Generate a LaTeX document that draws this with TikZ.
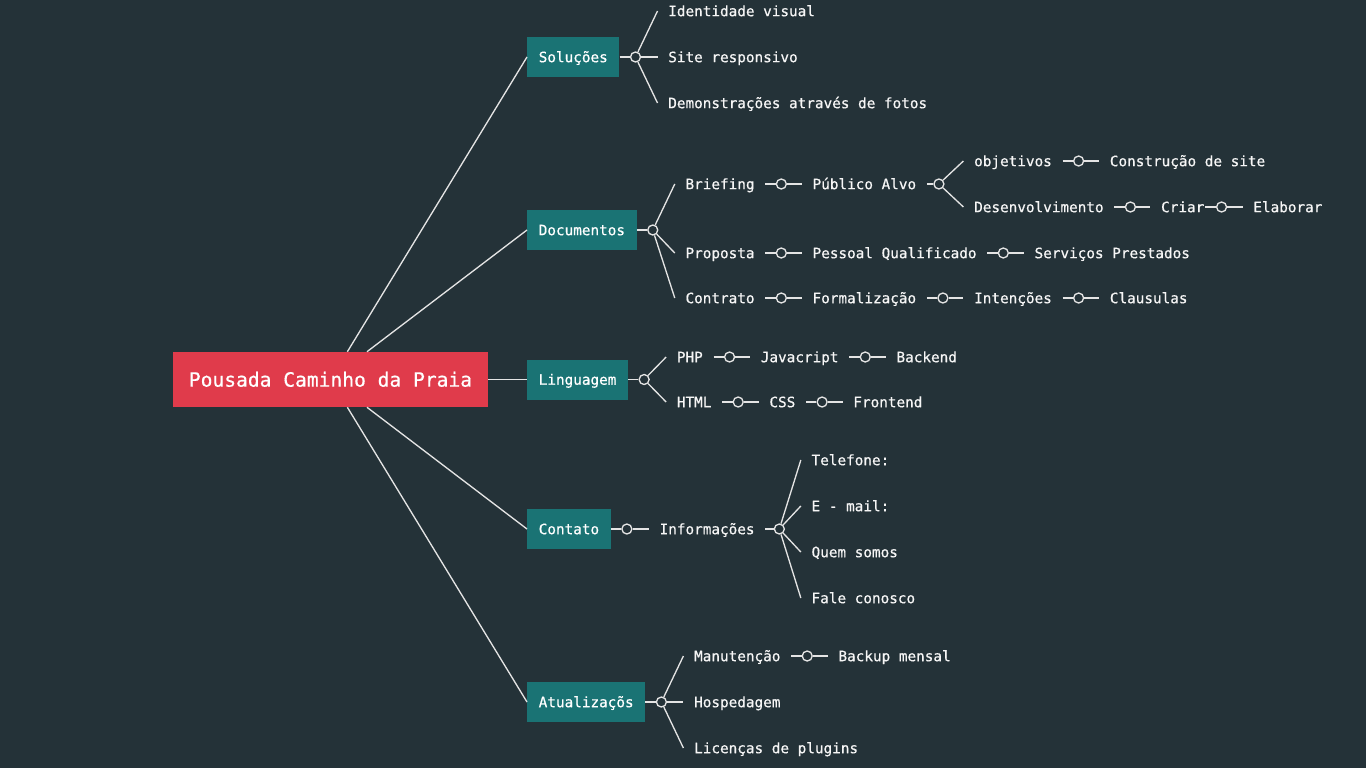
\documentclass[tikz,border=0pt]{standalone}
\usepackage{fontspec}
\setmainfont{DejaVu Sans Mono}[FakeBold=0.6]
\usetikzlibrary{calc}
\definecolor{bg}{RGB}{36,50,56}
\definecolor{rootred}{RGB}{224,59,75}
\definecolor{tealbox}{RGB}{26,115,116}
\definecolor{linec}{RGB}{228,228,228}
\definecolor{txt}{RGB}{246,246,246}
\tikzset{
  rootbox/.style={fill=rootred, text=white, font=\fontsize{14.7}{16}\selectfont,
    minimum width=236.25pt, minimum height=41.25pt, inner sep=0pt,
    text height=10.7pt, text depth=0pt},
  catbox/.style={fill=tealbox, text=white, font=\fontsize{10.75}{12}\selectfont,
    minimum height=30pt, inner xsep=8.6pt, inner ysep=0pt, anchor=west,
    text height=7.8pt, text depth=0pt},
  leaf/.style={text=txt, font=\fontsize{10.75}{12}\selectfont,
    inner xsep=7.875pt, inner ysep=3pt, anchor=west,
    text height=7.8pt, text depth=0pt},
  dot/.style={circle, draw=linec, fill=bg, line width=1pt, minimum size=7.5pt, inner sep=0pt},
  conn/.style={draw=linec, line width=1pt},
}
\begin{document}
\begin{tikzpicture}[x=0.75pt, y=-0.75pt]
\fill[bg] (0,0) rectangle (1366,768);
\useasboundingbox (0,0) rectangle (1366,768);

% root and categories
\node[rootbox] (root) at (330.5,379.5) {Pousada Caminho da Praia};
\node[catbox] (sol) at (527,57) {Soluções};
\node[catbox] (doc) at (527,230) {Documentos};
\node[catbox] (lin) at (527,379.5) {Linguagem};
\node[catbox] (con) at (527,529) {Contato};
\node[catbox] (atu) at (527,702) {Atualizaçõs};
\foreach \c in {sol,doc,lin,con,atu} \draw[conn] (root) -- (\c.west);

% Soluções
\node[dot] (solc) at ($(sol.east)+(16,0)$) {};
\node[leaf] (s1) at ($(solc)+(22,-46)$) {Identidade visual};
\node[leaf] (s2) at ($(solc)+(22,0)$) {Site responsivo};
\node[leaf] (s3) at ($(solc)+(22,46)$) {Demonstrações através de fotos};
\draw[conn] (sol) -- (solc);
\foreach \n in {s1,s2,s3} \draw[conn] (solc) -- (\n.west);

% Documentos
\node[dot] (docc) at ($(doc.east)+(16,0)$) {};
\node[leaf] (d1) at ($(docc)+(22,-46)$) {Briefing};
\node[leaf] (d2) at ($(docc)+(22,23)$) {Proposta};
\node[leaf] (d3) at ($(docc)+(22,68)$) {Contrato};
\draw[conn] (doc) -- (docc);
\foreach \n in {d1,d2,d3} \draw[conn] (docc) -- (\n.west);
% Briefing chain
\node[dot] (bc1) at ($(d1.east)+(16,0)$) {};
\node[leaf] (pa) at ($(bc1)+(20.5,0)$) {Público Alvo};
\draw[conn] (d1) -- (bc1) -- (pa);
\node[dot] (pac) at ($(pa.east)+(12,0)$) {};
\draw[conn] (pa) -- (pac);
\node[leaf] (obj) at ($(pac)+(24.5,-23)$) {objetivos};
\node[leaf] (des) at ($(pac)+(24.5,23)$) {Desenvolvimento};
\draw[conn] (pac) -- (obj.west);
\draw[conn] (pac) -- (des.west);
\node[dot] (oc) at ($(obj.east)+(16,0)$) {};
\node[leaf] (cons) at ($(oc)+(20.5,0)$) {Construção de site};
\draw[conn] (obj) -- (oc) -- (cons);
\node[dot] (dc) at ($(des.east)+(16,0)$) {};
\node[leaf] (cri) at ($(dc)+(20,0)$) {Criar};
\draw[conn] (des) -- (dc) -- (cri);
\node[dot] (cc) at ($(cri.east)+(6.5,0)$) {};
\node[leaf] (ela) at ($(cc)+(21,0)$) {Elaborar};
\coordinate (criend) at ($(cri.east)+(-10,0)$);
\draw[conn] (criend) -- (cc);
\draw[conn] (cc) -- (ela);
% Proposta chain
\node[dot] (pc1) at ($(d2.east)+(16,0)$) {};
\node[leaf] (pq) at ($(pc1)+(20.5,0)$) {Pessoal Qualificado};
\node[dot] (pc2) at ($(pq.east)+(16,0)$) {};
\node[leaf] (sp) at ($(pc2)+(20.5,0)$) {Serviços Prestados};
\draw[conn] (d2) -- (pc1) -- (pq) -- (pc2) -- (sp);
% Contrato chain
\node[dot] (cc1) at ($(d3.east)+(16,0)$) {};
\node[leaf] (for) at ($(cc1)+(20.5,0)$) {Formalização};
\node[dot] (cc2) at ($(for.east)+(16,0)$) {};
\node[leaf] (int) at ($(cc2)+(20.5,0)$) {Intenções};
\node[dot] (cc3) at ($(int.east)+(16,0)$) {};
\node[leaf] (cla) at ($(cc3)+(20.5,0)$) {Clausulas};
\draw[conn] (d3) -- (cc1) -- (for) -- (cc2) -- (int) -- (cc3) -- (cla);

% Linguagem
\node[dot] (linc) at ($(lin.east)+(16,0)$) {};
\node[leaf] (php) at ($(linc)+(22,-22.5)$) {PHP};
\node[leaf] (html) at ($(linc)+(22,22.5)$) {HTML};
\draw[conn] (lin) -- (linc);
\draw[conn] (linc) -- (php.west);
\draw[conn] (linc) -- (html.west);
\node[dot] (lc1) at ($(php.east)+(16,0)$) {};
\node[leaf] (js) at ($(lc1)+(20.5,0)$) {Javacript};
\node[dot] (lc2) at ($(js.east)+(16,0)$) {};
\node[leaf] (be) at ($(lc2)+(20.5,0)$) {Backend};
\draw[conn] (php) -- (lc1) -- (js) -- (lc2) -- (be);
\node[dot] (lc3) at ($(html.east)+(16,0)$) {};
\node[leaf] (css) at ($(lc3)+(20.5,0)$) {CSS};
\node[dot] (lc4) at ($(css.east)+(16,0)$) {};
\node[leaf] (fe) at ($(lc4)+(20.5,0)$) {Frontend};
\draw[conn] (html) -- (lc3) -- (css) -- (lc4) -- (fe);

% Contato
\node[dot] (conc) at ($(con.east)+(16,0)$) {};
\node[leaf] (inf) at ($(conc)+(22,0)$) {Informações};
\draw[conn] (con) -- (conc) -- (inf);
\node[dot] (infc) at ($(inf.east)+(14,0)$) {};
\draw[conn] (inf) -- (infc);
\node[leaf] (i1) at ($(infc)+(21.5,-69)$) {Telefone:};
\node[leaf] (i2) at ($(infc)+(21.5,-23)$) {E - mail:};
\node[leaf] (i3) at ($(infc)+(21.5,23)$) {Quem somos};
\node[leaf] (i4) at ($(infc)+(21.5,69)$) {Fale conosco};
\foreach \n in {i1,i2,i3,i4} \draw[conn] (infc) -- (\n.west);

% Atualizações
\node[dot] (atuc) at ($(atu.east)+(16,0)$) {};
\node[leaf] (a1) at ($(atuc)+(22,-46)$) {Manutenção};
\node[leaf] (a2) at ($(atuc)+(22,0)$) {Hospedagem};
\node[leaf] (a3) at ($(atuc)+(22,46)$) {Licenças de plugins};
\draw[conn] (atu) -- (atuc);
\foreach \n in {a1,a2,a3} \draw[conn] (atuc) -- (\n.west);
\node[dot] (ac1) at ($(a1.east)+(16,0)$) {};
\node[leaf] (bm) at ($(ac1)+(20.5,0)$) {Backup mensal};
\draw[conn] (a1) -- (ac1) -- (bm);
\end{tikzpicture}
\end{document}
